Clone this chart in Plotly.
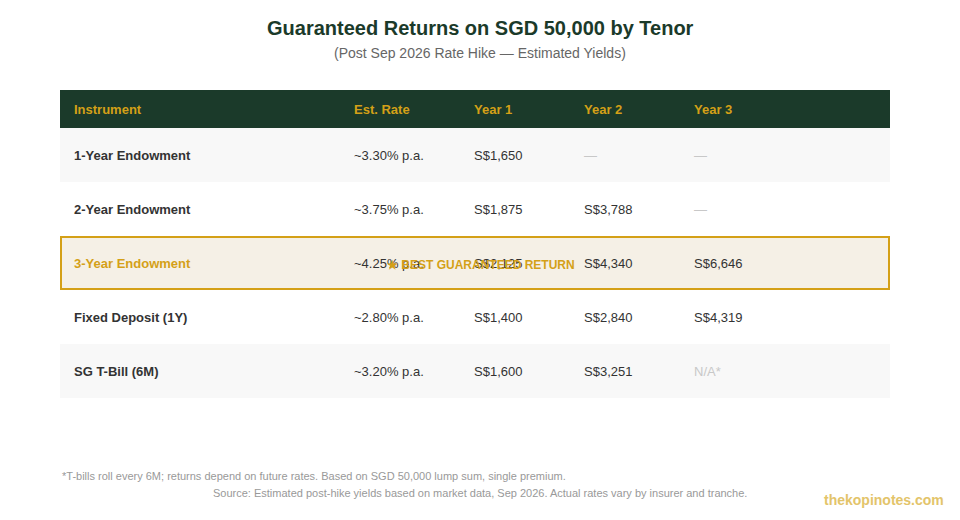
import plotly.graph_objects as go

instruments = ["1-Year Endowment", "2-Year Endowment", "3-Year Endowment", "Fixed Deposit (1Y)", "SG T-Bill (6M)"]
rates = [3.30, 3.75, 4.25, 2.80, 3.20]
year1 = [1650, 1875, 2125, 1400, 1600]
year2 = [None, 3788, 4340, 2840, 3251]
year3 = [None, None, 6646, 4319, "N/A*"]
headers = ["Instrument", "Est. Rate", "Year 1", "Year 2", "Year 3"]
best_index = 2

# page body has an 8px margin: figure is sized so it fills the 960x520 window
OFF = 8
W, H = 960 - OFF, 520 - OFF
FONT = "Liberation Sans, Arial, sans-serif"
GREEN = "#1b3a2a"
GOLD = "#d4a017"
TEXT = "#333333"
MUTED = "#c8c8c8"
row_fills = ["#f8f8f8", "#ffffff", "#f5f0e6", "#ffffff", "#f8f8f8"]
CLEAR = "rgba(0,0,0,0)"


def px(x):
    return (x - OFF) / W


def py(y):
    return 1 - (y - OFF) / H


def money(v):
    if v is None:
        return "—"
    if isinstance(v, str):
        return v
    return f"S${v:,.0f}"


def tone(v):
    return MUTED if (v is None or isinstance(v, str)) else TEXT


def span(s):
    return f"<span>{s}</span>"


col_inst = [f"<b>{s}</b>" for s in instruments]
col_rate = [span(f"~{r:.2f}% p.a.") for r in rates]
col_y1 = [span(money(v)) for v in year1]
col_y2 = [span(money(v)) for v in year2]
col_y3 = [span(money(v)) for v in year3]

inst_colors = [GOLD if i == best_index else TEXT for i in range(len(instruments))]
font_colors = [
    [TEXT] * 5,
    inst_colors,
    [TEXT] * 5,
    [tone(v) for v in year1],
    [tone(v) for v in year2],
    [tone(v) for v in year3],
]

x0, x1 = 60, 890
top = 90
header_h, row_h = 38, 54
n = len(instruments)
bottom = top + header_h + row_h * n
widths = [6, 280, 120, 110, 110, 204]

# background table (fills)
fig = go.Figure(go.Table(
    domain=dict(x=[px(x0), px(x1)], y=[py(bottom + 2), py(top)]),
    columnwidth=widths,
    header=dict(values=[""] * 6, fill_color=GREEN, line=dict(width=0, color=GREEN), height=header_h),
    cells=dict(values=[[""] * n] * 6, fill_color=[row_fills] * 6,
               line=dict(width=0, color="white"), height=row_h),
))

# text table, shifted to centre text vertically within rows
hdr_shift, cell_shift = 4, 12
fig.add_trace(go.Table(
    domain=dict(x=[px(x0), px(x1)], y=[py(bottom + 20), py(top + hdr_shift)]),
    columnwidth=widths,
    header=dict(
        values=[""] + [f"<b>{h}</b>" for h in headers],
        fill_color=CLEAR, line=dict(width=0, color=CLEAR),
        font=dict(family=FONT, size=13, color=GOLD),
        align="left", height=header_h + cell_shift - hdr_shift,
    ),
    cells=dict(
        values=[[""] * n, col_inst, col_rate, col_y1, col_y2, col_y3],
        fill_color=CLEAR, line=dict(width=0, color=CLEAR),
        font=dict(family=FONT, size=13, color=font_colors),
        align="left", height=row_h,
    ),
))

# highlight border around best row
by0 = top + header_h + row_h * best_index
fig.add_shape(type="rect", xref="paper", yref="paper",
              x0=px(x0 + 1), x1=px(x1 - 1),
              y0=py(by0 + row_h - 1), y1=py(by0 + 1),
              line=dict(color=GOLD, width=2), fillcolor=CLEAR)
fig.add_annotation(xref="paper", yref="paper", x=px(481), y=py(by0 + 29),
                   text="<b>★ BEST GUARANTEED RETURN</b>", showarrow=False,
                   font=dict(family=FONT, size=12, color=GOLD),
                   xanchor="center", yanchor="middle")

fig.add_annotation(xref="paper", yref="paper", x=px(480), y=py(28),
                   text="<b>Guaranteed Returns on SGD 50,000 by Tenor</b>", showarrow=False,
                   font=dict(family=FONT, size=20, color=GREEN),
                   xanchor="center", yanchor="middle")
fig.add_annotation(xref="paper", yref="paper", x=px(480), y=py(53),
                   text="(Post Sep 2026 Rate Hike — Estimated Yields)", showarrow=False,
                   font=dict(family=FONT, size=14, color="#666666"),
                   xanchor="center", yanchor="middle")
fig.add_annotation(xref="paper", yref="paper", x=px(60), y=py(476),
                   text="*T-bills roll every 6M; returns depend on future rates. Based on SGD 50,000 lump sum, single premium.",
                   showarrow=False,
                   font=dict(family=FONT, size=11, color="#999999"),
                   xanchor="left", yanchor="middle")
fig.add_annotation(xref="paper", yref="paper", x=px(480), y=py(493),
                   text="Source: Estimated post-hike yields based on market data, Sep 2026. Actual rates vary by insurer and tranche.",
                   showarrow=False,
                   font=dict(family=FONT, size=11, color="#999999"),
                   xanchor="center", yanchor="middle")
fig.add_annotation(xref="paper", yref="paper", x=px(946), y=py(500),
                   text="<b>thekopinotes.com</b>", showarrow=False,
                   font=dict(family=FONT, size=14, color="#e3c46a"),
                   xanchor="right", yanchor="middle")

fig.update_layout(width=W, height=H, margin=dict(l=0, r=0, t=0, b=0),
                  paper_bgcolor="white", plot_bgcolor="white", showlegend=False)
fig.write_html("out.html")
